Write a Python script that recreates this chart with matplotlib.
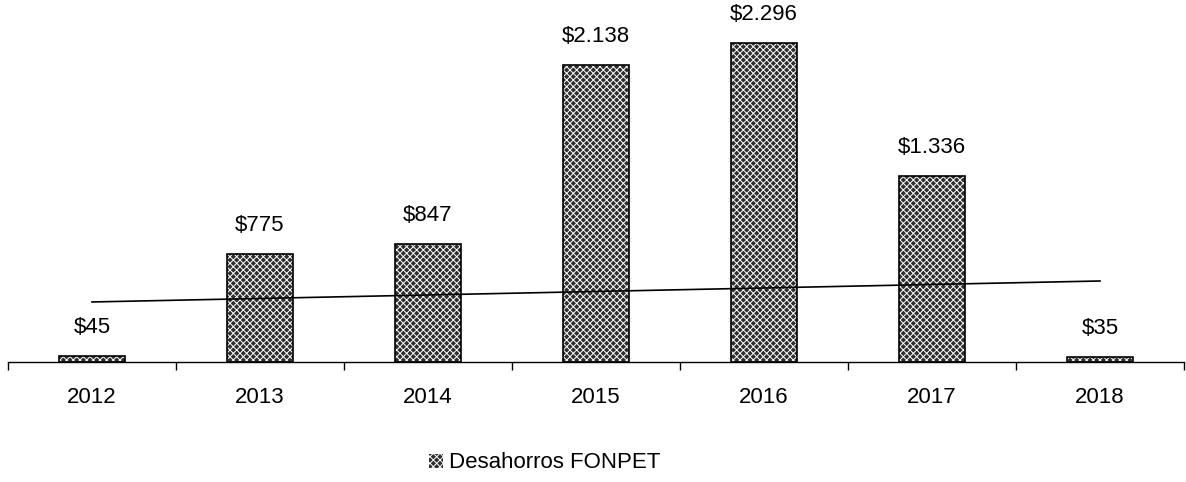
import numpy as np
import matplotlib.pyplot as plt
from matplotlib.ticker import FixedLocator

years = ["2012", "2013", "2014", "2015", "2016", "2017", "2018"]
desahorros = [45, 775, 847, 2138, 2296, 1336, 35]
value_labels = ["$45", "$775", "$847", "$2.138", "$2.296", "$1.336", "$35"]
trend_ends = [432, 583]  # trend line value at first and last year

plt.rcParams["font.family"] = ["Liberation Sans Narrow", "Liberation Sans", "DejaVu Sans"]
plt.rcParams["hatch.linewidth"] = 0.7

fig = plt.figure(figsize=(11.86, 4.82), dpi=100)
ax = fig.add_axes([8 / 1186, 1 - 362 / 482, 1176 / 1186, 362 / 482])

x = np.arange(len(years))
# textured fill (white hatch on dark face), then black outline on top
bars = ax.bar(x, desahorros, width=0.39, color="#2e2e2e", edgecolor="white",
              hatch="xxxxx", linewidth=0, label="Desahorros FONPET")
ax.bar(x, desahorros, width=0.39, fill=False, edgecolor="black", linewidth=1.2)

for xi, v, lab in zip(x, desahorros, value_labels):
    ax.annotate(lab, (xi, v), xytext=(0, 13), textcoords="offset points",
                ha="center", va="bottom", fontsize=16)

ax.plot([x[0], x[-1]], trend_ends, color="black", linewidth=1.2)

ax.set_xlim(-0.5, len(years) - 0.5)
ax.set_ylim(0, 2605)
ax.set_xticks(x)
ax.set_xticklabels(years, fontsize=16)
ax.tick_params(axis="x", which="major", length=0, pad=18)
ax.xaxis.set_minor_locator(FixedLocator(np.arange(-0.5, len(years), 1.0)))
ax.tick_params(axis="x", which="minor", length=6, width=1, color="black", direction="out")
ax.set_yticks([])
for s in ["top", "left", "right"]:
    ax.spines[s].set_visible(False)
ax.spines["bottom"].set_linewidth(1.0)

fig.legend(handles=[bars], loc="center", bbox_to_anchor=(545 / 1186, 1 - 463 / 482),
           frameon=False, fontsize=16, handlelength=0.6, handleheight=0.6,
           handletextpad=0.3)

fig.savefig("out.png", dpi=100)
